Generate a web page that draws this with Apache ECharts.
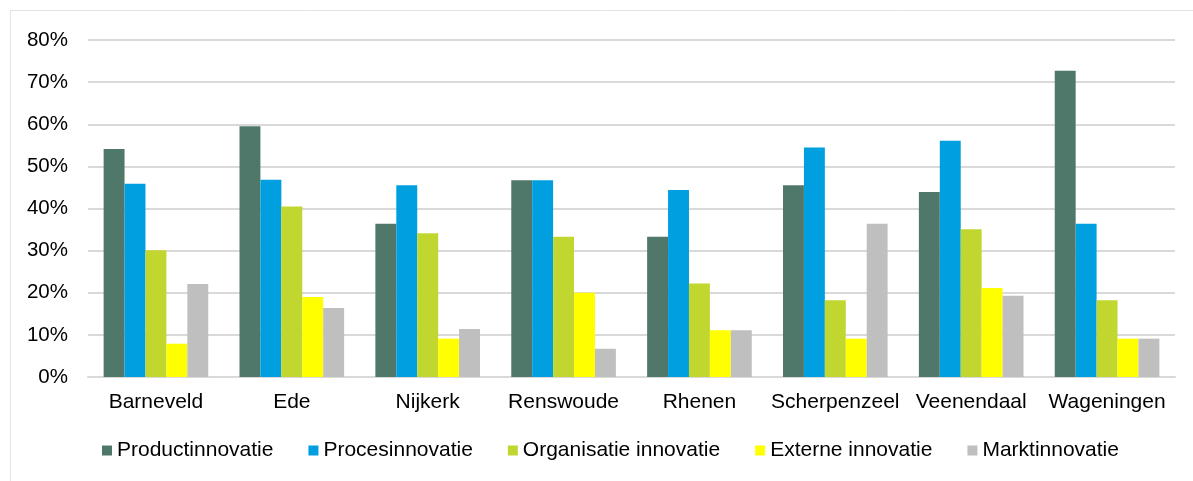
<!DOCTYPE html>
<html>
<head>
<meta charset="utf-8">
<script src="https://cdn.jsdelivr.net/npm/echarts@6/dist/echarts.min.js"></script>
<style>
  html, body { margin: 0; padding: 0; background: #fff; }
  #main { width: 1193px; height: 481px; }
</style>
</head>
<body>
<div id="main"></div>
<script>
const gemeenten = ["Barneveld", "Ede", "Nijkerk", "Renswoude", "Rhenen", "Scherpenzeel", "Veenendaal", "Wageningen"]
const productinnovatie = [54.1, 59.5, 36.4, 46.7, 33.3, 45.5, 43.9, 72.7]
const procesinnovatie = [45.9, 46.8, 45.5, 46.7, 44.4, 54.5, 56.1, 36.4]
const organisatieInnovatie = [30.1, 40.5, 34.1, 33.3, 22.2, 18.2, 35.1, 18.2]
const externeInnovatie = [7.9, 19.0, 9.1, 20.0, 11.1, 9.1, 21.1, 9.1]
const marktinnovatie = [22.1, 16.4, 11.4, 6.7, 11.1, 36.4, 19.3, 9.1]
const yTicks = [0, 10, 20, 30, 40, 50, 60, 70, 80]

const seriesDefs = [
  { name: "Productinnovatie", data: productinnovatie, color: "#50786a" },
  { name: "Procesinnovatie", data: procesinnovatie, color: "#009fdf" },
  { name: "Organisatie innovatie", data: organisatieInnovatie, color: "#c1d72f" },
  { name: "Externe innovatie", data: externeInnovatie, color: "#ffff00" },
  { name: "Marktinnovatie", data: marktinnovatie, color: "#bfbfbf" },
]

const font = "Arial, 'Liberation Sans', sans-serif"
var chart = echarts.init(document.getElementById("main"))
chart.setOption({
  animation: false,
  // rand van het grafiekgebied
  graphic: [{
    type: "rect",
    shape: { x: 10.5, y: 10.5, width: 1300, height: 600 },
    style: { fill: "none", stroke: "#e3e3e3", lineWidth: 1 },
    silent: true,
  }],
  grid: { left: 88, right: 18, top: 40, bottom: 104 },
  legend: {
    bottom: 20,
    left: 102,
    padding: 0,
    itemWidth: 10,
    itemHeight: 10,
    itemGap: 35,
    icon: "rect",
    textStyle: { fontFamily: font, fontSize: 21, color: "#000" },
    data: seriesDefs.map((s) => s.name),
  },
  xAxis: {
    type: "category",
    data: gemeenten,
    axisLine: { lineStyle: { color: "#d9d9d9", width: 2 } },
    axisTick: { show: false },
    axisLabel: { fontFamily: font, fontSize: 21, color: "#000", margin: 15, interval: 0 },
  },
  yAxis: {
    type: "value",
    min: yTicks[0],
    max: yTicks[yTicks.length - 1],
    interval: 10,
    axisLine: { show: false },
    axisTick: { show: false },
    splitLine: { lineStyle: { color: "#d9d9d9", width: 2 } },
    axisLabel: { fontFamily: font, fontSize: 20.5, color: "#000", margin: 20, formatter: "{value}%" },
  },
  series: seriesDefs.map((s) => ({
    name: s.name,
    type: "bar",
    data: s.data,
    barGap: "0%",
    barCategoryGap: "23%",
    itemStyle: { color: s.color },
  })),
})
window.addEventListener("resize", () => {
  chart.resize()
})
</script>
</body>
</html>
